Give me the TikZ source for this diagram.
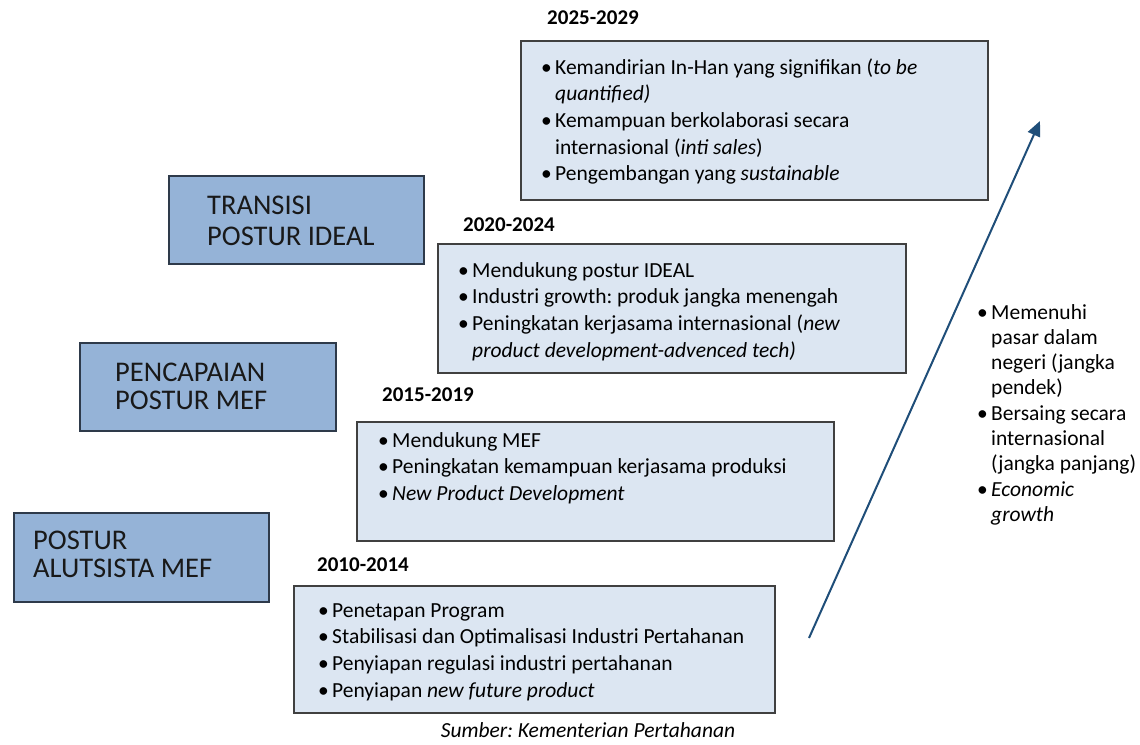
\documentclass[tikz,border=0pt]{standalone}
\usepackage{fontspec}
\setmainfont{Carlito}
\usetikzlibrary{arrows.meta}
\frenchspacing

\definecolor{stagefill}{HTML}{95B3D7}
\definecolor{stageline}{HTML}{2E3A4A}
\definecolor{periodfill}{HTML}{DCE6F2}
\definecolor{periodline}{HTML}{404040}
\definecolor{growthblue}{HTML}{1F4E79}

% bullet cell used in every list
\newcommand{\bl}{\makebox[14pt][l]{\textbullet}}

\tikzset{
  stagebox/.style={draw=stageline, fill=stagefill, line width=1.5pt,
    anchor=north west, inner sep=0pt},
  stagetext/.style={anchor=base west, inner sep=0pt, align=left,
    font=\fontsize{28.5pt}{28pt}\selectfont, text=black!90},
  periodbox/.style={draw=periodline, fill=periodfill, line width=1.5pt,
    anchor=north west, inner sep=0pt},
  periodtitle/.style={anchor=base west, inner sep=0pt,
    font=\fontsize{21pt}{25pt}\selectfont\bfseries},
  listtext/.style={anchor=base west, inner sep=0pt,
    font=\fontsize{21.5pt}{26.7pt}\selectfont},
  sidetext/.style={anchor=base west, inner sep=0pt,
    font=\fontsize{21.5pt}{25.3pt}\selectfont},
  growth/.style={draw=growthblue, line width=2pt,
    -{Triangle[length=15pt,width=13pt]}},
}

\begin{document}
\begin{tikzpicture}[x=1pt,y=-1pt]
\useasboundingbox[fill=white] (0,0) rectangle (1140,744);

% stage boxes on the left (text anchored at the baseline of its last line)
\node[stagebox, minimum width=255pt, minimum height=88pt] (sTrans) at (168,175) {};
\node[stagetext, font=\fontsize{28.5pt}{31pt}\selectfont] (sTransT) at (207,245) {TRANSISI\\POSTUR IDEAL};
\node[stagebox, minimum width=256pt, minimum height=88pt] (sPenc) at (79,342) {};
\node[stagetext] (sPencT) at (115,409) {PENCAPAIAN\\POSTUR MEF};
\node[stagebox, minimum width=255pt, minimum height=89pt] (sPost) at (13,512) {};
\node[stagetext] (sPostT) at (33,577) {POSTUR\\ALUTSISTA MEF};

% 2025-2029
\node[periodtitle] (h2025) at (547,24.5) {2025-2029};
\node[periodbox, minimum width=467pt, minimum height=159pt] (b2025) at (520,40) {};
\node[listtext] (l2025) at (541,74) {\begin{tabular}[t]{@{}l@{}l@{}}
\bl & Kemandirian In-Han yang signifikan (\textit{to be}\\
    & \textit{quantified)}\\
\bl & Kemampuan berkolaborasi secara\\
    & internasional (\textit{inti sales})\\
\bl & Pengembangan yang \textit{sustainable}
\end{tabular}};

% 2020-2024
\node[periodtitle] (h2020) at (463,231.5) {2020-2024};
\node[periodbox, minimum width=468pt, minimum height=129pt] (b2020) at (437,243) {};
\node[listtext] (l2020) at (458,277) {\begin{tabular}[t]{@{}l@{}l@{}}
\bl & Mendukung postur IDEAL\\
\bl & Industri growth: produk jangka menengah\\
\bl & Peningkatan kerjasama internasional (\textit{new}\\
    & \textit{product development-advenced tech)}
\end{tabular}};

% 2015-2019
\node[periodtitle] (h2015) at (382,401.5) {2015-2019};
\node[periodbox, minimum width=477pt, minimum height=119pt] (b2015) at (356,421) {};
\node[listtext] (l2015) at (378,447) {\begin{tabular}[t]{@{}l@{}l@{}}
\bl & Mendukung MEF\\
\bl & Peningkatan kemampuan kerjasama produksi\\
\bl & \textit{New Product Development}
\end{tabular}};

% 2010-2014
\node[periodtitle] (h2010) at (317,571.5) {2010-2014};
\node[periodbox, minimum width=481pt, minimum height=127pt] (b2010) at (293,585) {};
\node[listtext] (l2010) at (318,617) {\begin{tabular}[t]{@{}l@{}l@{}}
\bl & Penetapan Program\\
\bl & Stabilisasi dan Optimalisasi Industri Pertahanan\\
\bl & Penyiapan regulasi industri pertahanan\\
\bl & Penyiapan \textit{new future product}
\end{tabular}};

% growth arrow and its goals
\coordinate (gTail) at (809,638);
\coordinate (gTip) at (1040,121);
\draw[growth] (gTail) -- (gTip);

\node[sidetext] (goals) at (977,319) {\begin{tabular}[t]{@{}l@{}l@{}}
\bl & Memenuhi\\
    & pasar dalam\\
    & negeri (jangka\\
    & pendek)\\
\bl & Bersaing secara\\
    & internasional\\
    & (jangka panjang)\\
\bl & \textit{Economic}\\
    & \textit{growth}
\end{tabular}};

% source line
\node[anchor=base, inner sep=0pt, font=\fontsize{21.5pt}{25pt}\selectfont\itshape] (src) at (588,737) {Sumber: Kementerian Pertahanan};
\end{tikzpicture}
\end{document}
